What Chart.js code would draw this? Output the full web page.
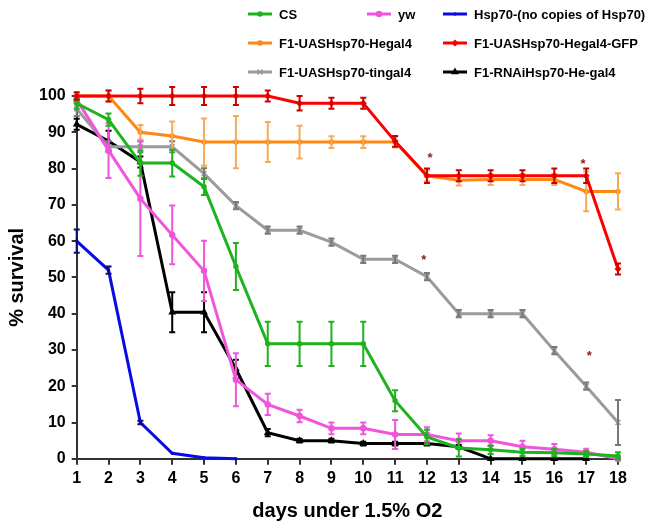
<!DOCTYPE html>
<html>
<head>
<meta charset="utf-8">
<script src="https://cdn.jsdelivr.net/npm/chart.js@4"></script>
<style>
  html, body { margin: 0; padding: 0; background: #fff; }
  #wrap { width: 662px; height: 526px; }
</style>
</head>
<body>
<div id="wrap"><canvas id="chart"></canvas></div>
<script>
// days under low oxygen
const days = [1, 2, 3, 4, 5, 6, 7, 8, 9, 10, 11, 12, 13, 14, 15, 16, 17, 18];

// % survival per line, with the error (+/-)
const cs     = [98, 93.5, 81.5, 81.5, 75, 53, 31.7, 31.7, 31.7, 31.7, 16, 6, 3, 2.5, 1.8, 1.7, 1.3, 0.8];
const csErr  = [1.5, 1.7, 3.5, 3.7, 2.3, 6.5, 6.1, 6.1, 6.1, 6.1, 2.9, 2, 2.4, 1.2, 1, 1, 0.8, 1];

const yw     = [99, 85, 71.7, 61.7, 51.8, 21.8, 15, 11.8, 8.4, 8.4, 6.7, 6.7, 5, 5, 3.3, 2.6, 1.8, 0];
const ywErr  = [1, 7.6, 15.8, 8.1, 8.3, 7.3, 2.9, 1.7, 1.6, 1.6, 4, 2, 2, 1.5, 1.7, 1.5, 1, 0.5];

const hsp    = [60, 52, 10, 1.5, 0.3, 0, null, null, null, null, null, null, null, null, null, null, null, null];
const hspErr = [3.2, 1, 0.5, 0, 0, 0, null, null, null, null, null, null, null, null, null, null, null, null];

const uas    = [100, 100, 90, 89, 87.3, 87.3, 87.3, 87.3, 87.3, 87.3, 87.3, 78, 76.8, 77, 77, 77, 73.7, 73.7];
const uasErr = [0.5, 1.5, 2, 4, 6.5, 7.2, 5.5, 4.5, 1.6, 1.6, 1.5, 1.5, 1.5, 1.5, 1.5, 1.5, 5.5, 5];

const gfp    = [100, 100, 100, 100, 100, 100, 100, 98, 98, 98, 87.5, 78, 78, 78, 78, 78, 78, 52.3];
const gfpErr = [1, 1.5, 2, 2.5, 2.5, 2.5, 1.5, 2, 1.5, 1.5, 1.5, 2, 1.5, 1.5, 1.5, 2, 2, 1.5];

const tin    = [96.5, 86, 86, 86, 78.6, 69.8, 63, 63, 59.7, 55, 55, 50.2, 40, 40, 40, 29.8, 20, 10];
const tinErr = [2, 1.5, 1.5, 1.5, 1.5, 1, 1, 1, 1, 1, 1, 1, 1, 1, 1, 1, 1, 6.2];

const rnai    = [92.2, 87.6, 81.8, 40.4, 40.4, 24.8, 7.2, 5, 5, 4.2, 4.2, 4.2, 3.3, 0, 0, 0, 0, null];
const rnaiErr = [1.5, 2.8, 1.5, 5.5, 5.5, 2.5, 1, 0.5, 0.5, 0.5, 0.5, 0.5, 0.5, 0, 0, 0, 0, null];

// significance asterisks
const starX = [12.1, 11.9, 16.9, 17.1];
const starY = [83.7, 55.5, 82, 29];

const yTicks = [0, 10, 20, 30, 40, 50, 60, 70, 80, 90, 100];

const FONT = '"Liberation Sans", Arial, Helvetica, sans-serif';

function pts(values) {
  return days.map((d, i) => ({ x: d, y: values[i] }));
}

function series(label, values, errors, color, errColor, style, radius, extra) {
  return Object.assign({
    label: label,
    data: pts(values),
    errors: errors,
    errColor: errColor,
    borderColor: color,
    backgroundColor: color,
    borderWidth: 3,
    pointStyle: style,
    pointRadius: radius,
    pointBorderWidth: 1.5,
    pointBackgroundColor: color,
    pointBorderColor: color,
    tension: 0,
    spanGaps: false,
    clip: false
  }, extra || {});
}

// vertical error bars with small caps, drawn right after each line
const errorBars = {
  id: 'errorBars',
  afterDatasetDraw(chart, args) {
    const ds = chart.data.datasets[args.index];
    if (!ds.errors) return;
    const ctx = chart.ctx;
    const yScale = chart.scales.y;
    ctx.save();
    ctx.strokeStyle = ds.errColor;
    ctx.lineWidth = 2;
    args.meta.data.forEach((pt, i) => {
      const v = ds.data[i].y;
      const e = ds.errors[i];
      if (v == null || !e) return;
      const top = yScale.getPixelForValue(v + e);
      const bot = yScale.getPixelForValue(v - e);
      ctx.beginPath();
      ctx.moveTo(pt.x, top); ctx.lineTo(pt.x, bot);
      ctx.moveTo(pt.x - 3, top); ctx.lineTo(pt.x + 3, top);
      ctx.moveTo(pt.x - 3, bot); ctx.lineTo(pt.x + 3, bot);
      ctx.stroke();
    });
    ctx.restore();
  }
};

const stars = {
  id: 'stars',
  afterDatasetsDraw(chart) {
    const ctx = chart.ctx;
    ctx.save();
    ctx.fillStyle = '#8b1a1a';
    ctx.font = 'bold 13px ' + FONT;
    ctx.textAlign = 'center';
    ctx.textBaseline = 'middle';
    starX.forEach((x, i) => {
      ctx.fillText('*', chart.scales.x.getPixelForValue(x), chart.scales.y.getPixelForValue(starY[i]) + 3);
    });
    ctx.restore();
  }
};

// legend laid out in the same three-column grid as the original figure
const legendSlots = [[248, 14], [367, 14], [443, 14], [248, 43], [443, 43], [248, 72], [443, 72]];
const gridLegend = {
  id: 'gridLegend',
  afterDraw(chart) {
    const ctx = chart.ctx;
    ctx.save();
    chart.data.datasets.forEach((ds, i) => {
      const [x, y] = legendSlots[i];
      ctx.strokeStyle = ds.borderColor;
      ctx.fillStyle = ds.borderColor;
      ctx.lineWidth = 3;
      ctx.beginPath();
      ctx.moveTo(x, y); ctx.lineTo(x + 24, y);
      ctx.stroke();
      ctx.lineWidth = 1.5;
      Chart.helpers.drawPoint(ctx, {
        pointStyle: ds.pointStyle,
        radius: ds.pointRadius,
        borderWidth: 1.5,
        rotation: 0
      }, x + 12, y);
      ctx.fillStyle = '#000';
      ctx.font = 'bold 13px ' + FONT;
      ctx.textAlign = 'left';
      ctx.textBaseline = 'middle';
      ctx.fillText(ds.label, x + 31, y + 1);
    });
    ctx.restore();
  }
};

new Chart(document.getElementById('chart'), {
  type: 'line',
  data: {
    datasets: [
      series('CS', cs, csErr, 'rgb(30,178,30)', 'rgb(30,178,30)', 'circle', 2),
      series('yw', yw, ywErr, 'rgb(240,85,220)', 'rgb(240,85,220)', 'circle', 2.5),
      series('Hsp70-(no copies of Hsp70)', hsp, hspErr, 'rgb(10,10,230)', 'rgb(10,10,120)', 'circle', 1),
      series('F1-UASHsp70-Hegal4', uas, uasErr, 'rgb(255,136,20)', 'rgb(245,170,90)', 'circle', 2),
      series('F1-UASHsp70-Hegal4-GFP', gfp, gfpErr, 'rgb(250,0,0)', 'rgb(205,0,0)', 'rectRot', 2.5, { order: -1 }),
      series('F1-UASHsp70-tingal4', tin, tinErr, 'rgb(155,155,155)', 'rgb(120,120,120)', 'crossRot', 3.5),
      series('F1-RNAiHsp70-He-gal4', rnai, rnaiErr, 'rgb(0,0,0)', 'rgb(0,0,0)', 'triangle', 3)
    ]
  },
  options: {
    responsive: true,
    maintainAspectRatio: false,
    animation: false,
    layout: { padding: { top: 96, right: 44, left: 3, bottom: 1 } },
    scales: {
      x: {
        type: 'linear',
        min: 1,
        max: 18,
        border: { display: true, color: '#333', width: 2 },
        grid: { display: true, drawOnChartArea: false, drawTicks: true, tickLength: 6, color: '#333', lineWidth: 2 },
        ticks: {
          stepSize: 1,
          padding: 4,
          color: '#000',
          font: { family: FONT, size: 16, weight: 'bold' }
        },
        title: {
          display: true,
          text: 'days under 1.5% O2',
          color: '#000',
          font: { family: FONT, size: 20, weight: 'bold' },
          padding: { top: 7, bottom: 2 }
        }
      },
      y: {
        min: 0,
        max: 100,
        border: { display: true, color: '#333', width: 2 },
        grid: { display: true, drawOnChartArea: false, drawTicks: true, tickLength: 5, color: '#333', lineWidth: 2 },
        afterBuildTicks(axis) {
          axis.ticks = yTicks.map(v => ({ value: v }));
        },
        ticks: {
          padding: 6,
          color: '#000',
          font: { family: FONT, size: 16, weight: 'bold' }
        },
        title: {
          display: true,
          text: '% survival',
          color: '#000',
          font: { family: FONT, size: 20, weight: 'bold' },
          padding: { top: 2, bottom: 4 }
        }
      }
    },
    plugins: {
      legend: { display: false },
      tooltip: { enabled: false }
    }
  },
  plugins: [errorBars, stars, gridLegend]
});
</script>
</body>
</html>
